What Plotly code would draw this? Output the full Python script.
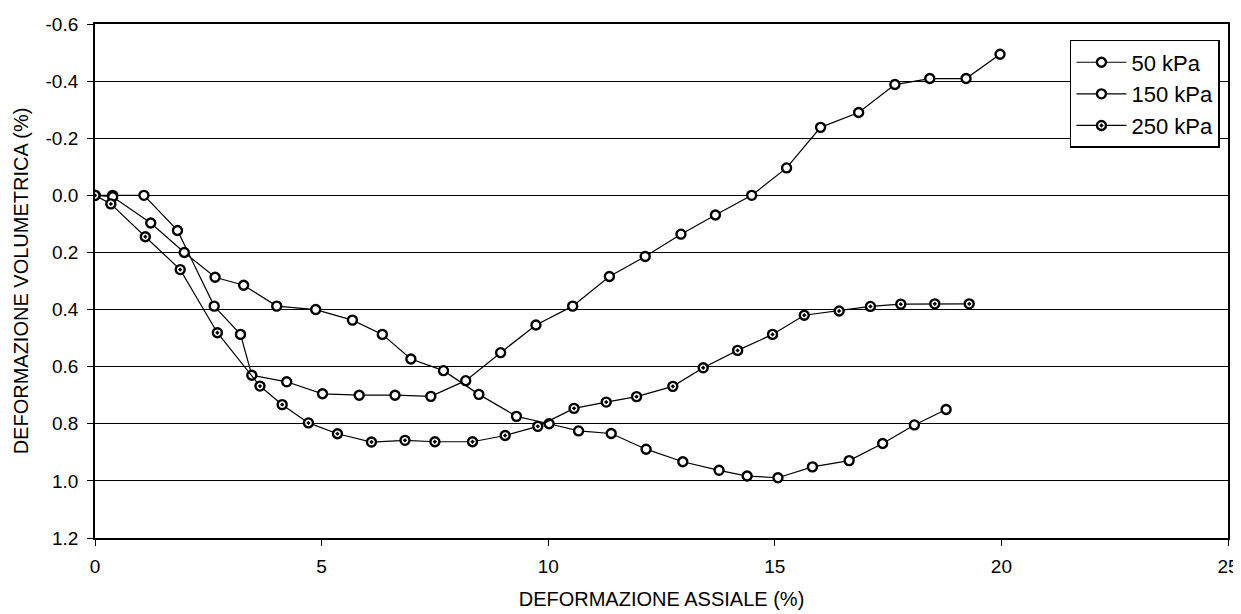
import plotly.graph_objects as go

# Data
x_50 = [0.0, 0.39, 1.08, 1.82, 2.63, 3.21, 3.46, 4.23, 5.02, 5.83, 6.62, 7.41, 8.18, 8.95, 9.73,
        10.54, 11.35, 12.14, 12.93, 13.69, 14.49, 15.26, 16.01, 16.85, 17.65, 18.42, 19.22, 19.97]
y_50 = [0.0, 0.0, 0.0, 0.123, 0.388, 0.487, 0.63, 0.653, 0.695, 0.70, 0.70, 0.704, 0.649, 0.551, 0.454,
        0.388, 0.284, 0.214, 0.136, 0.069, 0.0, -0.096, -0.238, -0.29, -0.388, -0.409, -0.409, -0.494]

x_150 = [0.0, 0.39, 1.23, 1.97, 2.65, 3.28, 4.01, 4.87, 5.68, 6.34, 6.97, 7.69, 8.47, 9.30, 10.02,
         10.67, 11.39, 12.16, 12.97, 13.77, 14.39, 15.07, 15.83, 16.64, 17.38, 18.08, 18.78]
y_150 = [0.0, 0.005, 0.097, 0.2, 0.287, 0.315, 0.388, 0.40, 0.437, 0.487, 0.573, 0.614, 0.697, 0.774, 0.80,
         0.825, 0.834, 0.889, 0.933, 0.963, 0.983, 0.989, 0.951, 0.929, 0.869, 0.804, 0.75]

x_250 = [0.0, 0.35, 1.11, 1.88, 2.70, 3.64, 4.13, 4.71, 5.35, 6.10, 6.84, 7.50, 8.33, 9.05, 9.77,
         10.57, 11.28, 11.95, 12.75, 13.42, 14.18, 14.95, 15.65, 16.42, 17.11, 17.78, 18.53, 19.29]
y_250 = [0.0, 0.03, 0.145, 0.26, 0.481, 0.668, 0.733, 0.797, 0.835, 0.864, 0.858, 0.863, 0.863, 0.841, 0.809,
         0.746, 0.724, 0.705, 0.669, 0.604, 0.543, 0.487, 0.42, 0.405, 0.389, 0.381, 0.38, 0.38]

series_names = ["50 kPa", "150 kPa", "250 kPa"]
y_ticks = [-0.6, -0.4, -0.2, 0.0, 0.2, 0.4, 0.6, 0.8, 1.0, 1.2]
x_ticks = [0, 5, 10, 15, 20, 25]

FONT = "Liberation Sans, Arial, sans-serif"

fig = go.Figure()
for name, xs, ys, sym in [
    (series_names[0], x_50, y_50, "circle"),
    (series_names[1], x_150, y_150, "circle"),
    (series_names[2], x_250, y_250, "circle-dot"),
]:
    fig.add_trace(go.Scatter(
        x=xs, y=ys, name=name, legendgroup=name, mode="lines+markers",
        line=dict(color="black", width=1.2),
        marker=dict(symbol=sym, size=9, color="white", line=dict(color="black", width=2.4)),
    ))

# The page body adds an 8px offset, so the figure is 8px smaller than the window
fig.update_layout(
    width=1233, height=606,
    margin=dict(l=87, r=13, t=16, b=76, autoexpand=False),
    paper_bgcolor="white", plot_bgcolor="white",
    font=dict(family=FONT, size=19, color="black"),
    showlegend=True,
    legend=dict(
        x=0.8605, y=0.969, xanchor="left", yanchor="top",
        bgcolor="white", bordercolor="black", borderwidth=1.5,
        font=dict(family=FONT, size=22, color="black"),
        tracegroupgap=0, itemwidth=50,
    ),
)
fig.update_xaxes(
    range=[0, 25], tickvals=x_ticks, ticktext=[str(v) for v in x_ticks],
    showgrid=False, zeroline=False, automargin=False,
    showline=True, linecolor="black", linewidth=1.5, mirror=True,
    ticks="outside", ticklen=6, tickcolor="black", ticklabelstandoff=4,
    tickfont=dict(family=FONT, size=19),
    title=dict(text="DEFORMAZIONE ASSIALE (%)", font=dict(family=FONT, size=20), standoff=16),
)
fig.update_yaxes(
    range=[1.2, -0.6], tickvals=y_ticks, ticktext=[f"{v:.1f}" for v in y_ticks],
    showgrid=True, gridcolor="black", gridwidth=1.2,
    zeroline=False, automargin=False,
    showline=True, linecolor="black", linewidth=1.8, mirror=True,
    ticks="outside", ticklen=6, tickcolor="black", ticklabelstandoff=5,
    tickfont=dict(family=FONT, size=19),
    title=dict(text="DEFORMAZIONE VOLUMETRICA (%)", font=dict(family=FONT, size=20), standoff=12),
)

fig.write_html("out.html")
